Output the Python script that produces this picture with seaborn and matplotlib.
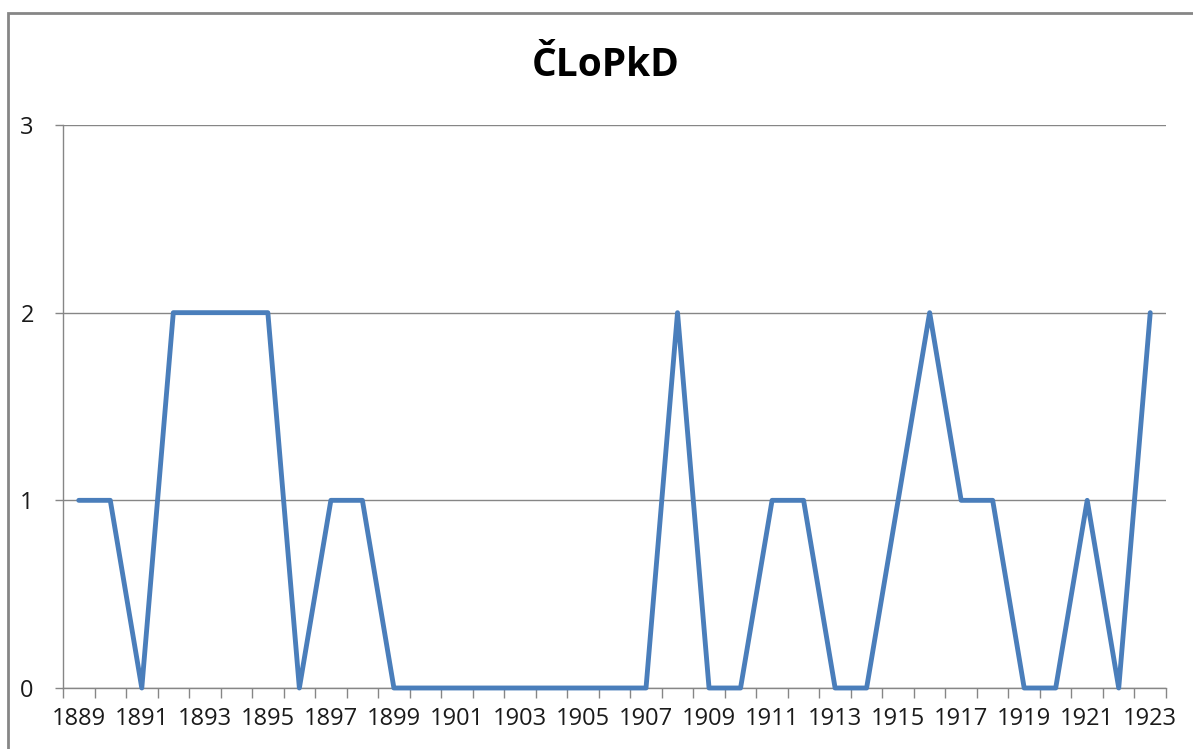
import matplotlib
matplotlib.use("Agg")
import matplotlib.pyplot as plt
import matplotlib.patches as patches
import pandas as pd
import seaborn as sns
import numpy as np

# Data
years = [str(y) for y in range(1889, 1924)]
values = [1, 1, 0, 2, 2, 2, 2, 0, 1, 1,
          0, 0, 0, 0, 0, 0, 0, 0, 0, 2,
          0, 0, 1, 1, 0, 0, 1, 2, 1, 1,
          0, 0, 1, 0, 2]
title = "ČLoPkD"

df = pd.DataFrame({"year": years, "count": values})
df["pos"] = np.arange(len(df))

sns.set_style("white")
plt.rcParams['font.family'] = ['Open Sans', 'DejaVu Sans']

fig = plt.figure(figsize=(11.93, 7.49), dpi=100)
ax = fig.add_axes([63 / 1193, 1 - 688 / 749, (1166 - 63) / 1193, (688 - 125) / 749])

grid_c = "#868686"
sns.lineplot(data=df, x="pos", y="count", ax=ax, color="#4a7ebb",
             linewidth=3.5, clip_on=False, zorder=3)

ax.set_xlim(-0.5, len(df) - 0.5)
ax.set_ylim(0, 3)
ax.set_yticks([0, 1, 2, 3])
ax.yaxis.grid(True, color=grid_c, linewidth=1)
ax.set_axisbelow(True)

# labels every other year, tick marks at category boundaries
ax.set_xticks(df["pos"][::2])
ax.set_xticklabels(df["year"][::2])
ax.set_xticks(np.arange(-0.5, len(df)), minor=True)
ax.tick_params(axis="x", which="major", length=0, pad=14, labelsize=17, colors="#1a1a1a")
ax.tick_params(axis="x", which="minor", length=7, width=1, color=grid_c, direction="out")
ax.tick_params(axis="y", which="major", length=6, width=1, color=grid_c, direction="out",
               pad=15, labelsize=17, labelcolor="#1a1a1a")
ax.xaxis.set_ticks_position("bottom")
ax.yaxis.set_ticks_position("left")

for s in ["top", "right"]:
    ax.spines[s].set_visible(False)
for s in ["left", "bottom"]:
    ax.spines[s].set_color(grid_c)
    ax.spines[s].set_linewidth(1)

ax.set_xlabel("")
ax.set_ylabel("")

fig.text(606 / 1193, 1 - 66 / 749, title, ha="center", va="center",
         fontsize=28, fontweight="bold", color="black")

# outer chart border
border = patches.Rectangle((8 / 1193, -0.1), 1.2, 1 - 13 / 749 + 0.1,
                           transform=fig.transFigure, fill=False,
                           edgecolor="#868686", linewidth=2, clip_on=False)
fig.patches.append(border)

fig.savefig("out.png", dpi=100)
